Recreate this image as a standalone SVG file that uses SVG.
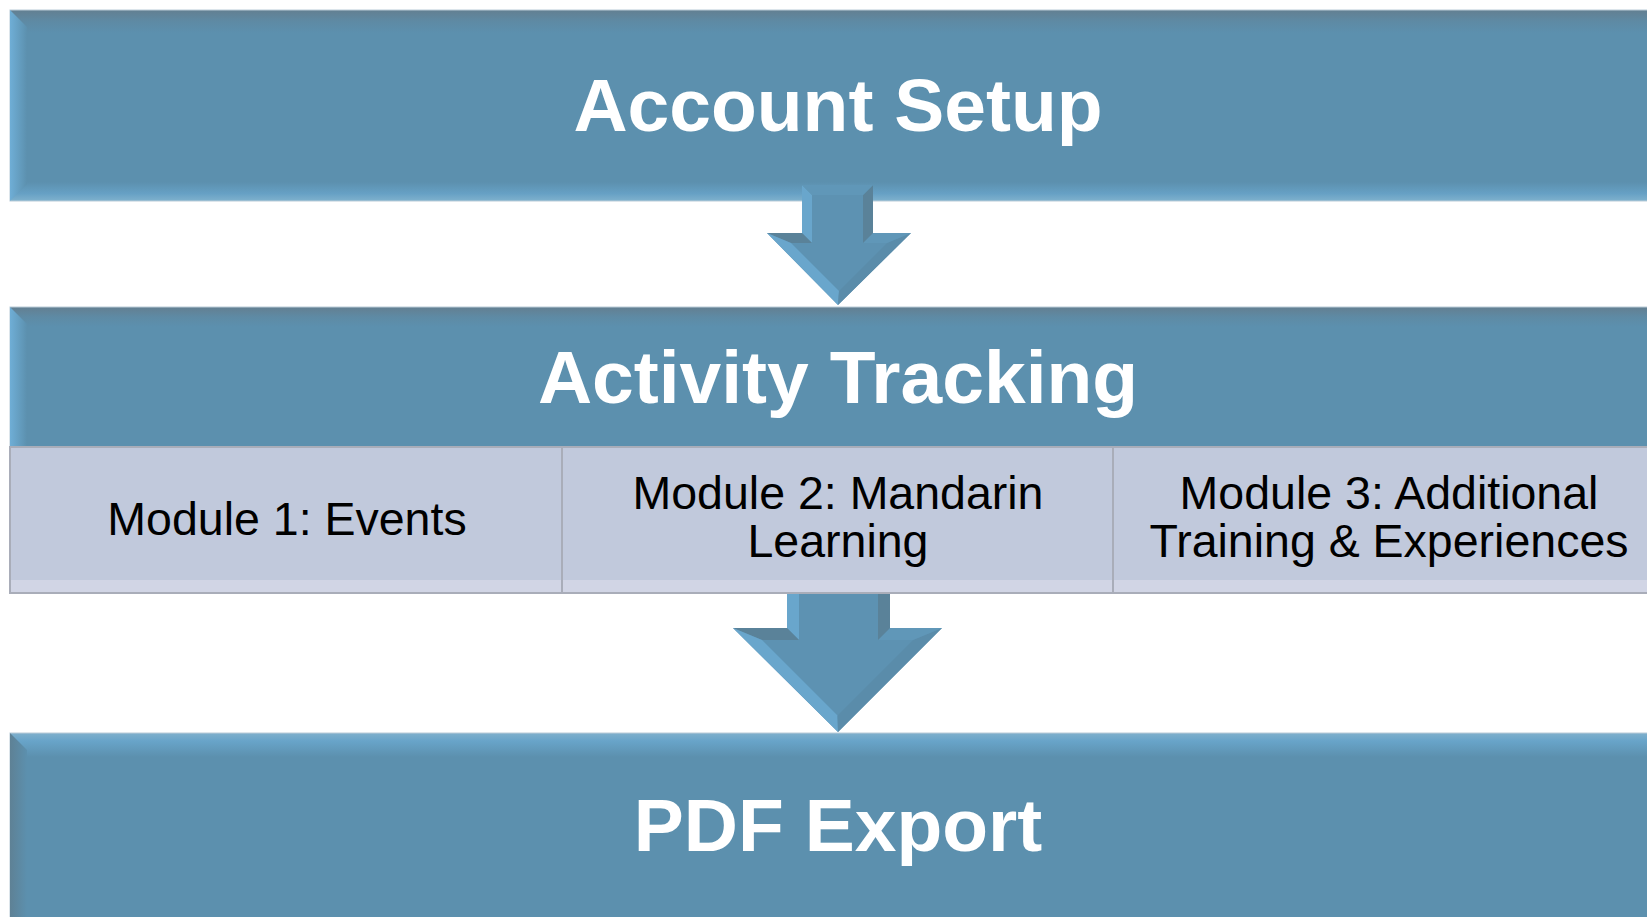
<svg xmlns="http://www.w3.org/2000/svg" width="1647" height="917" viewBox="0 0 1647 917">
<style>
.title{font-family:"Liberation Sans",Arial,sans-serif;font-weight:bold;font-size:75px;fill:#FFFFFF;text-anchor:middle;}
.cell{fill:#C1C9DC;stroke:#A9ADB9;stroke-width:2;}
.cellstrip{fill:#D1D5E5;}
.ctext{font-family:"Liberation Sans",Arial,sans-serif;font-size:46.5px;fill:#000000;text-anchor:middle;}
.arrow{fill:#5D92B2;}
.lt{fill:#69A6CC;}
.dk{fill:#5A8299;}
.md{fill:#5A8CAA;}
.ltm{fill:#6097B8;}
</style>
<defs>
<linearGradient id="gTop" x1="0" y1="0" x2="0" y2="1">
<stop offset="0" stop-color="#637F91"/>
<stop offset="0.06" stop-color="#5E8AA4"/>
<stop offset="0.12" stop-color="#5C90AE"/>
<stop offset="0.9" stop-color="#5C90AE"/>
<stop offset="0.96" stop-color="#66A0C4"/>
<stop offset="1" stop-color="#7FB1CD"/>
</linearGradient>
<linearGradient id="gMid" x1="0" y1="0" x2="0" y2="1">
<stop offset="0" stop-color="#637F91"/>
<stop offset="0.07" stop-color="#5E8AA4"/>
<stop offset="0.14" stop-color="#5C90AE"/>
<stop offset="1" stop-color="#5C90AE"/>
</linearGradient>
<linearGradient id="gBot" x1="0" y1="0" x2="0" y2="1">
<stop offset="0" stop-color="#7FB0CC"/>
<stop offset="0.04" stop-color="#68A4C9"/>
<stop offset="0.12" stop-color="#5C90AE"/>
<stop offset="1" stop-color="#5C90AE"/>
</linearGradient>
<linearGradient id="gLeftLt" x1="0" y1="0" x2="1" y2="0">
<stop offset="0" stop-color="#6FAED6"/>
<stop offset="1" stop-color="#5C90AE"/>
</linearGradient>
<linearGradient id="gLeftDk" x1="0" y1="0" x2="1" y2="0">
<stop offset="0" stop-color="#5E8195"/>
<stop offset="1" stop-color="#5C90AE"/>
</linearGradient>
</defs>
<rect x="0" y="0" width="1647" height="917" fill="#FFFFFF"/>

<g id="account-setup">
<rect x="10" y="10" width="1660" height="191" fill="url(#gTop)" stroke="#B9CCD8" stroke-width="1"/>
<polygon points="10,10 27,27 27,184 10,201" fill="url(#gLeftLt)"/>
<text class="title" x="838" y="131">Account Setup</text>
</g>

<g id="activity-tracking">
<rect x="10" y="307" width="1660" height="140" fill="url(#gMid)" stroke="#B9CCD8" stroke-width="1"/>
<polygon points="10,307 27,324 27,447 10,447" fill="url(#gLeftLt)"/>
<text class="title" x="838" y="403">Activity Tracking</text>
</g>

<g id="connectors">
<g id="arrow1">
<polygon class="arrow" points="802,185 873,185 873,233 911,233 838,305 767,233 802,233"/>
<polygon class="lt" points="802,185 812,195 812,243 802,233"/>
<polygon class="dk" points="802,233 812,243 791,243 767,233"/>
<polygon class="lt" points="767,233 791,243 839,291 838,305"/>
<polygon class="md" points="838,305 839,291 887,243 911,233"/>
<polygon class="ltm" points="911,233 887,243 863,243 873,233"/>
<polygon class="dk" points="873,233 863,243 863,195 873,185"/>
<polygon class="ltm" points="802,185 873,185 863,195 812,195"/>
</g>
<g id="arrow2">
<polygon class="arrow" points="787,590 890,590 890,628 942,628 838,732 733,628 787,628"/>
<polygon class="lt" points="787,590 799,590 799,640 787,628"/>
<polygon class="dk" points="787,628 799,640 762,640 733,628"/>
<polygon class="lt" points="733,628 762,640 837.5,715.5 838,732"/>
<polygon class="md" points="838,732 837.5,715.5 913,640 942,628"/>
<polygon class="ltm" points="942,628 913,640 878,640 890,628"/>
<polygon class="dk" points="890,628 878,640 878,590 890,590"/>
</g>
</g>

<g id="module-1">
<rect class="cell" x="10" y="447" width="552" height="146"/>
<rect class="cellstrip" x="11" y="580" width="550" height="12"/>
<text class="ctext" x="287" y="535">Module 1: Events</text>
</g>
<g id="module-2">
<rect class="cell" x="562" y="447" width="551" height="146"/>
<rect class="cellstrip" x="563" y="580" width="549" height="12"/>
<text class="ctext" x="838" y="509">Module 2: Mandarin</text>
<text class="ctext" x="838" y="557">Learning</text>
</g>
<g id="module-3">
<rect class="cell" x="1113" y="447" width="557" height="146"/>
<rect class="cellstrip" x="1114" y="580" width="555" height="12"/>
<text class="ctext" x="1389" y="509">Module 3: Additional</text>
<text class="ctext" x="1389" y="557">Training &amp; Experiences</text>
</g>

<g id="pdf-export">
<rect x="10" y="733" width="1660" height="200" fill="url(#gBot)" stroke="#B9CCD8" stroke-width="1"/>
<polygon points="10,733 27,750 27,917 10,917" fill="url(#gLeftDk)"/>
<text class="title" x="838" y="851">PDF Export</text>
</g>
</svg>
